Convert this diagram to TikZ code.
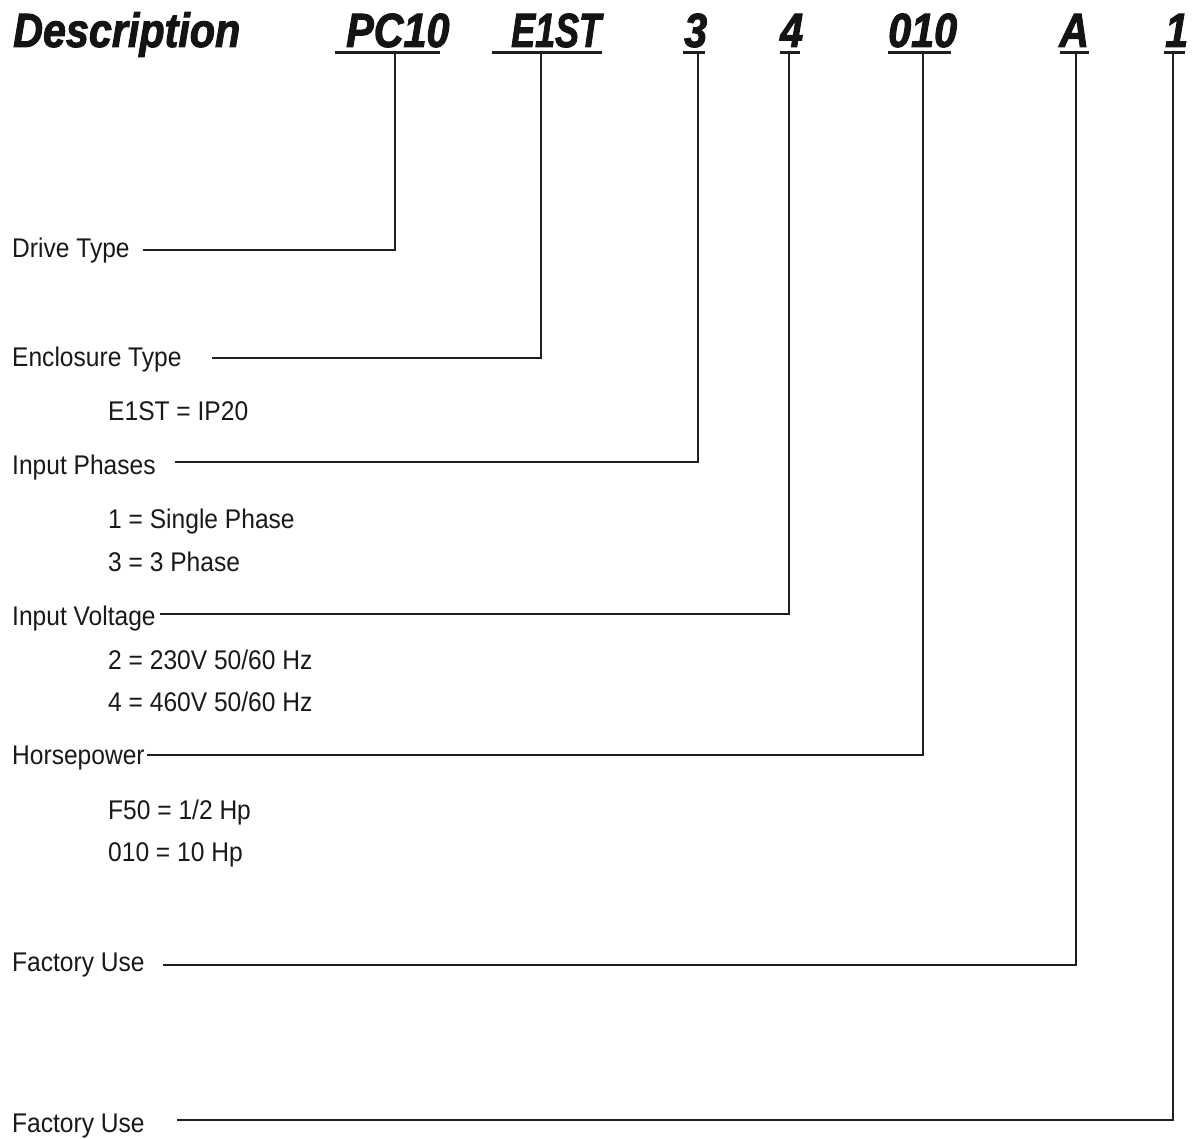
\documentclass[tikz,border=0pt]{standalone}
\usepackage{fontspec}
\newfontfamily\hdrfont[BoldItalicFeatures={FakeStretch=0.86,FakeBold=2}]{Liberation Sans}
\newfontfamily\bodyfont[FakeStretch=0.91]{Liberation Sans}
\tikzset{
  hdr/.style={anchor=base west, inner sep=0pt, font=\hdrfont\bfseries\itshape\fontsize{48}{48}\selectfont, text=black!92},
  lbl/.style={anchor=base west, inner sep=0pt, font=\bodyfont\fontsize{27}{30}\selectfont, text=black!90},
  conn/.style={line width=2.4pt, draw=black!88, line join=miter},
  uline/.style={line width=3pt, draw=black!88},
}
\begin{document}
\begin{tikzpicture}[x=1pt,y=-1pt]
\useasboundingbox (0,0) rectangle (1193,1139);
% header
\node[hdr] (hDesc) at (13,47) {Description};
\node[hdr] (hPC) at (346,47) {PC10};
\node[hdr] (hE) at (511,47) {\scalebox{0.87}[1]{E1ST}};
\node[hdr] (h3) at (684,47) {3};
\node[hdr] (h4) at (780,47) {4};
\node[hdr] (h010) at (888,47) {010};
\node[hdr] (hA) at (1059,47) {A};
\node[hdr] (h1) at (1165,47) {1};
% underlines
\draw[uline] (335,53) -- (440,53);
\draw[uline] (492,53) -- (602,53);
\draw[uline] (683,53) -- (705,53);
\draw[uline] (780,53) -- (800,53);
\draw[uline] (888,53) -- (951,53);
\draw[uline] (1060,53) -- (1089,53);
\draw[uline] (1164,53) -- (1185,53);
% labels
\node[lbl] (drive) at (12,258) {Drive Type};
\node[lbl] (encl) at (12,366) {Enclosure Type};
\node[lbl] (encl1) at (108,420) {E1ST = IP20};
\node[lbl] (phase) at (12,474) {Input Phases};
\node[lbl] (phase1) at (108,528) {1 = Single Phase};
\node[lbl] (phase3) at (108,571) {3 = 3 Phase};
\node[lbl] (volt) at (12,625) {Input Voltage};
\node[lbl] (volt2) at (108,669) {2 = 230V 50/60 Hz};
\node[lbl] (volt4) at (108,711) {4 = 460V 50/60 Hz};
\node[lbl] (hp) at (12,764) {Horsepower};
\node[lbl] (hpF) at (108,819) {F50 = 1/2 Hp};
\node[lbl] (hp10) at (108,861) {010 = 10 Hp};
\node[lbl] (fac1) at (12,971) {Factory Use};
\node[lbl] (fac2) at (12,1132) {Factory Use};
% connector ends
\coordinate (tPC) at (395,53);   \coordinate (ePC) at (143,250);
\coordinate (tE) at (541,53);    \coordinate (eE) at (212,358);
\coordinate (t3) at (698,53);    \coordinate (e3) at (175,462);
\coordinate (t4) at (789,53);    \coordinate (e4) at (160,614);
\coordinate (t010) at (923,53);  \coordinate (e010) at (147,755);
\coordinate (tA) at (1076,53);   \coordinate (eA) at (163,965);
\coordinate (t1) at (1173,53);   \coordinate (e1) at (177,1120);
\draw[conn] (tPC) |- (ePC);
\draw[conn] (tE) |- (eE);
\draw[conn] (t3) |- (e3);
\draw[conn] (t4) |- (e4);
\draw[conn] (t010) |- (e010);
\draw[conn] (tA) |- (eA);
\draw[conn] (t1) |- (e1);
\end{tikzpicture}
\end{document}
